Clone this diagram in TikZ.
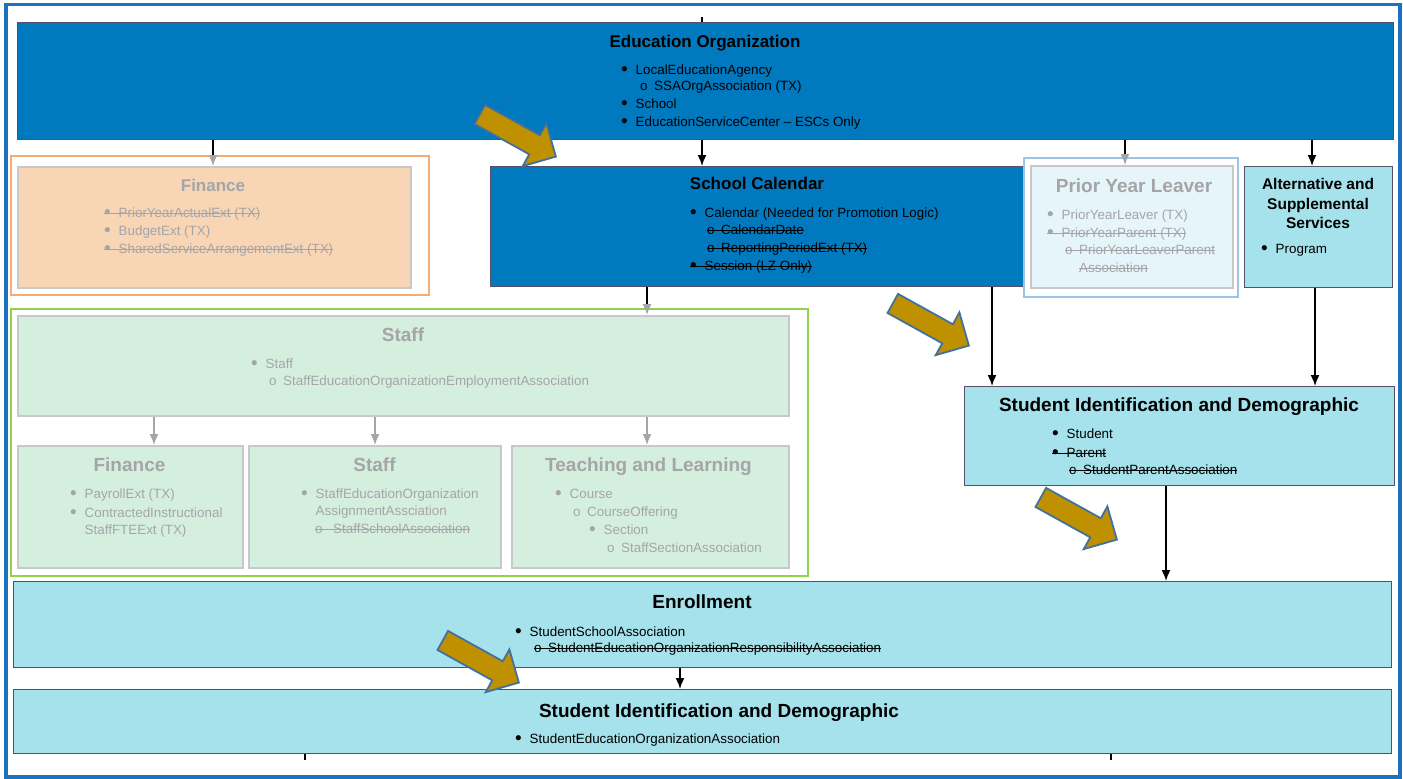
\documentclass[tikz,border=0pt]{standalone}
\usepackage{fontspec}
\setmainfont{Liberation Sans}
\usepackage{tikz}
\usetikzlibrary{positioning,calc}
\usetikzlibrary{shapes.arrows}
\usetikzlibrary{arrows.meta}
\definecolor{orgblue}{RGB}{0,121,191}
\definecolor{boxline}{RGB}{84,80,104}
\definecolor{lightcyan}{RGB}{166,226,236}
\definecolor{peach}{RGB}{247,213,181}
\definecolor{paleblue}{RGB}{229,245,249}
\definecolor{mint}{RGB}{213,239,223}
\definecolor{fadeline}{RGB}{200,200,204}
\definecolor{fadetext}{RGB}{165,165,168}
\definecolor{orangeline}{RGB}{245,172,118}
\definecolor{frameblue}{RGB}{157,195,230}
\definecolor{greenline}{RGB}{146,208,80}
\definecolor{pageblue}{RGB}{28,114,190}
\definecolor{gold}{RGB}{191,144,0}
\definecolor{goldline}{RGB}{65,113,156}
\newcommand{\dotb}{\makebox[14.5pt][l]{\raisebox{-1.3pt}{\fontsize{19}{16}\selectfont •}}}
\newcommand{\ringb}{\makebox[14pt][l]{o}}
\newsavebox{\strkbox}
\newcommand{\strk}[1]{\sbox{\strkbox}{#1}\rlap{\rule[0.27em]{\wd\strkbox}{0.9pt}}\usebox{\strkbox}}
\tikzstyle{solidbox} = [rectangle, anchor=north west, inner sep=0pt, draw=boxline, line width=1.3pt]
\tikzstyle{fadedbox} = [rectangle, anchor=north west, inner sep=0pt, draw=fadeline, line width=1.5pt]
\tikzstyle{area} = [rectangle, anchor=north west, inner sep=0pt, fill=white, line width=2pt]
\tikzstyle{heading} = [anchor=mid, inner sep=0pt, yshift=-3pt, text=black, font=\bfseries\fontsize{19}{22}\selectfont]
\tikzstyle{fadedheading} = [heading, text=fadetext]
\tikzstyle{item} = [anchor=mid west, inner sep=0pt, yshift=-2.5pt, text=black, font=\fontsize{13.4}{16}\selectfont]
\tikzstyle{fadeditem} = [item, text=fadetext]
\tikzstyle{link} = [line width=1.6pt, -{Latex[length=11pt,width=9pt]}]
\tikzstyle{halflink} = [line width=1.6pt, -{Latex[length=11pt,width=9pt,color=fadetext]}]
\tikzstyle{fadedlink} = [link, draw=fadetext]
\tikzstyle{goldarrow} = [single arrow, anchor=tail, rotate=-29, fill=gold, draw=goldline, line width=1.8pt,
  inner sep=10pt, minimum height=87pt, single arrow head extend=13.5pt]

\begin{document}
\begin{tikzpicture}[x=1pt, y=-1pt]
\useasboundingbox (0,0) rectangle (1403,779);
\draw[pageblue, line width=3.5pt] (6,4.5) rectangle (1400,777);

% boxes
\node[solidbox, fill=orgblue, minimum width=1376, minimum height=117] (eo) at (17,22) {};
\node[area, draw=orangeline, minimum width=418, minimum height=139] (finarea) at (10,155) {};
\node[fadedbox, fill=peach, minimum width=393, minimum height=121] (fin) at (17,166) {};
\node[solidbox, fill=orgblue, minimum width=538, minimum height=120] (sc) at (490,166) {};
\node[area, draw=frameblue, minimum width=214, minimum height=139] (pylarea) at (1023,157) {};
\node[fadedbox, fill=paleblue, minimum width=202, minimum height=122] (pyl) at (1030,165) {};
\node[solidbox, fill=lightcyan, minimum width=148, minimum height=121] (alt) at (1244,166) {};
\node[area, draw=greenline, minimum width=797, minimum height=267] (staffarea) at (10,308) {};
\node[fadedbox, fill=mint, minimum width=771, minimum height=100] (staff) at (17,315) {};
\node[fadedbox, fill=mint, minimum width=225, minimum height=122] (fin2) at (17,445) {};
\node[fadedbox, fill=mint, minimum width=252, minimum height=122] (staff2) at (248,445) {};
\node[fadedbox, fill=mint, minimum width=277, minimum height=122] (tl) at (511,445) {};
\node[solidbox, fill=lightcyan, minimum width=430, minimum height=99] (sid) at (964,386) {};
\node[solidbox, fill=lightcyan, minimum width=1378, minimum height=86] (enr) at (13,581) {};
\node[solidbox, fill=lightcyan, minimum width=1378, minimum height=64] (sidb) at (13,689) {};

% connectors
\coordinate (stubtop) at (702,17);
\coordinate (stubleft) at (305,760);
\coordinate (stubright) at (1111,760);
\draw[line width=1.3pt] (stubtop) -- (702,0 |- eo.north);
\draw[line width=1.3pt] (305,0 |- sidb.south) -- (stubleft);
\draw[line width=1.3pt] (1111,0 |- sidb.south) -- (stubright);
\draw[halflink] (213,0 |- eo.south) -- (213,0 |- fin.north);
\draw[link] (702,0 |- eo.south) -- (702,0 |- sc.north);
\draw[halflink] (1125,0 |- eo.south) -- (1125,0 |- pyl.north);
\draw[link] (1312,0 |- eo.south) -- (1312,0 |- alt.north);
\draw[halflink] (647,0 |- sc.south) -- (647,0 |- staff.north);
\draw[fadedlink] (154,0 |- staff.south) -- (154,0 |- fin2.north);
\draw[fadedlink] (375,0 |- staff.south) -- (375,0 |- staff2.north);
\draw[fadedlink] (647,0 |- staff.south) -- (647,0 |- tl.north);
\draw[link] (992,0 |- sc.south) -- (992,0 |- sid.north);
\draw[link] (1315,0 |- alt.south) -- (1315,0 |- sid.north);
\draw[link] (1166,0 |- sid.south) -- (1166,0 |- enr.north);
\draw[link] (680,0 |- enr.south) -- (680,0 |- sidb.north);

% texts
\node[heading, font=\bfseries\fontsize{17}{20}\selectfont] (eo-t) at (705,42) {Education Organization};
\node[item] (eo-1) at (621,69) {\dotb LocalEducationAgency};
\node[item] (eo-2) at (640,85) {\ringb SSAOrgAssociation (TX)};
\node[item] (eo-3) at (621,103) {\dotb School};
\node[item] (eo-4) at (621,121) {\dotb EducationServiceCenter – ESCs Only};

\node[fadedheading, font=\bfseries\fontsize{17}{20}\selectfont] (fin-t) at (213,186) {Finance};
\node[fadeditem] (fin-1) at (104,212) {\strk{\dotb PriorYearActualExt (TX)}};
\node[fadeditem] (fin-2) at (104,230) {\dotb BudgetExt (TX)};
\node[fadeditem] (fin-3) at (104,248) {\strk{\dotb SharedServiceArrangementExt (TX)}};

\node[heading, font=\bfseries\fontsize{17}{20}\selectfont] (sc-t) at (757,184) {School Calendar};
\node[item] (sc-1) at (690,212) {\dotb Calendar (Needed for Promotion Logic)};
\node[item] (sc-2) at (707,229) {\strk{\ringb CalendarDate}};
\node[item] (sc-3) at (707,247) {\strk{\ringb ReportingPeriodExt (TX)}};
\node[item] (sc-4) at (690,265) {\strk{\dotb Session (LZ Only)}};

\node[fadedheading] (pyl-t) at (1134,187) {Prior Year Leaver};
\node[fadeditem] (pyl-1) at (1047,214) {\dotb PriorYearLeaver (TX)};
\node[fadeditem] (pyl-2) at (1047,232) {\strk{\dotb PriorYearParent (TX)}};
\node[fadeditem] (pyl-3) at (1065,249) {\strk{\ringb PriorYearLeaverParent}};
\node[fadeditem] (pyl-4) at (1079,267) {\strk{Association}};

\node[heading, anchor=center, align=center, font=\bfseries\fontsize{15.5}{19.5}\selectfont] (alt-t) at (1318,200.5) {Alternative and\\Supplemental\\Services};
\node[item] (alt-1) at (1261,248) {\dotb Program};

\node[fadedheading] (st-t) at (403,336) {Staff};
\node[fadeditem] (st-1) at (251,363) {\dotb Staff};
\node[fadeditem] (st-2) at (269,380) {\ringb StaffEducationOrganizationEmploymentAssociation};

\node[fadedheading] (fi-t) at (129.5,466) {Finance};
\node[fadeditem] (fi-1) at (70,493) {\dotb PayrollExt (TX)};
\node[fadeditem] (fi-2) at (70,512) {\dotb ContractedInstructional};
\node[fadeditem] (fi-3) at (84.5,529) {StaffFTEExt (TX)};

\node[fadedheading] (sa-t) at (374.5,466) {Staff};
\node[fadeditem] (sa-1) at (301,493) {\dotb StaffEducationOrganization};
\node[fadeditem] (sa-2) at (315.5,510) {AssignmentAssciation};
\node[fadeditem] (sa-3) at (315,528) {\strk{\makebox[18pt][l]{o}StaffSchoolAssociation}};

\node[fadedheading] (tl-t) at (648.5,466) {Teaching and Learning};
\node[fadeditem] (tl-1) at (555,493) {\dotb Course};
\node[fadeditem] (tl-2) at (573,511) {\ringb CourseOffering};
\node[fadeditem] (tl-3) at (589,529) {\dotb Section};
\node[fadeditem] (tl-4) at (607,547) {\ringb StaffSectionAssociation};

\node[heading] (sid-t) at (1179,406) {Student Identification and Demographic};
\node[item] (sid-1) at (1052,433) {\dotb Student};
\node[item] (sid-2) at (1052,452) {\strk{\dotb Parent}};
\node[item] (sid-3) at (1069,469) {\strk{\ringb StudentParentAssociation}};

\node[heading] (enr-t) at (702,603) {Enrollment};
\node[item] (enr-1) at (515,631) {\dotb StudentSchoolAssociation};
\node[item] (enr-2) at (534,647) {\strk{\ringb StudentEducationOrganizationResponsibilityAssociation}};

\node[heading] (sidb-t) at (719,712) {Student Identification and Demographic};
\node[item] (sidb-1) at (515,738) {\dotb StudentEducationOrganizationAssociation};

% gold pointers
\node[goldarrow] (g1) at (479,114) {};
\node[goldarrow] (g2) at (892,303) {};
\node[goldarrow] (g3) at (1040,497) {};
\node[goldarrow] (g4) at (442,640) {};
\end{tikzpicture}
\end{document}
